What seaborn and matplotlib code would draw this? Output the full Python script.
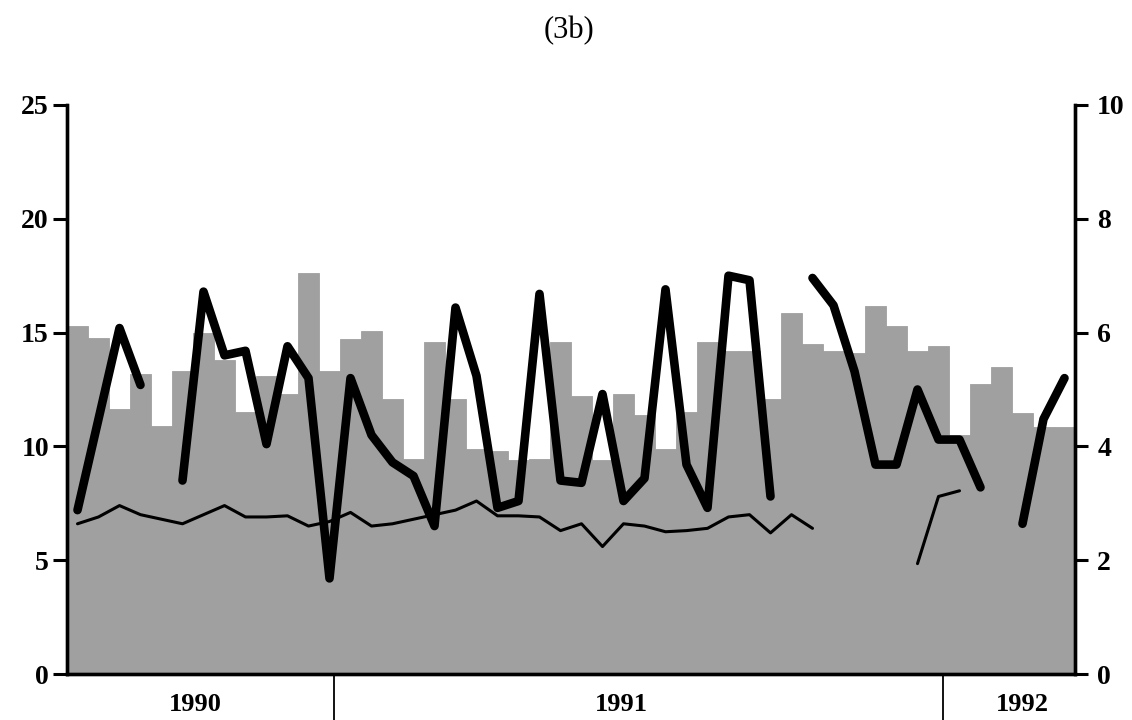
import matplotlib
matplotlib.use('Agg')
import matplotlib.pyplot as plt
import numpy as np
import pandas as pd
import seaborn as sns

# 48 periods, values (left axis units)
bars = [15.3, 14.75, 11.65, 13.2, 10.9, 13.3, 15.0, 13.8, 11.5, 13.1, 12.3, 17.6,
        13.3, 14.7, 15.05, 12.1, 9.45, 14.6, 12.1, 9.9, 9.8, 9.4, 9.45, 14.6,
        12.2, 9.4, 12.3, 11.4, 9.9, 11.5, 14.6, 14.2, 14.2, 12.1, 15.85, 14.5,
        14.2, 14.1, 16.15, 15.3, 14.2, 14.4, 10.5, 12.75, 13.5, 11.45, 10.85, 10.85]
thick = [7.2, 11.2, 15.2, 12.7, np.nan, 8.5, 16.8, 14.0, 14.2, 10.1, 14.4, 13.0,
         4.2, 13.0, 10.5, 9.3, 8.7, 6.5, 16.1, 13.1, 7.3, 7.6, 16.7, 8.5,
         8.4, 12.3, 7.6, 8.6, 16.9, 9.2, 7.3, 17.5, 17.3, 7.8, np.nan, 17.4,
         16.2, 13.3, 9.2, 9.2, 12.5, 10.3, 10.3, 8.2, np.nan, 6.6, 11.2, 13.0]
thin = [6.6, 6.9, 7.4, 7.0, 6.8, 6.6, 7.0, 7.4, 6.9, 6.9, 6.95, 6.5,
        6.7, 7.1, 6.5, 6.6, 6.8, 7.0, 7.2, 7.6, 6.95, 6.95, 6.9, 6.3,
        6.6, 5.6, 6.6, 6.5, 6.25, 6.3, 6.4, 6.9, 7.0, 6.2, 7.0, 6.4,
        np.nan, np.nan, np.nan, np.nan, 4.85, 7.8, 8.05, np.nan, np.nan, np.nan, np.nan, np.nan]
years = ['1990', '1991', '1992']
year_pos = [5.6, 25.9, 45.0]
year_breaks = [12.2, 41.2]

sns.set_style('ticks', {'axes.edgecolor': 'black', 'text.color': 'black',
                        'xtick.color': 'black', 'ytick.color': 'black'})
plt.rcParams['font.family'] = ['Liberation Serif', 'DejaVu Serif']

df = pd.DataFrame({'period': np.arange(len(bars)), 'bar': bars,
                   'thick': thick, 'thin': thin})


def segments(col):
    # split a series at its gaps so each piece is drawn on its own
    s = df[['period', col]].copy()
    s['seg'] = s[col].isna().cumsum()
    return s.dropna()


fig = plt.figure(figsize=(11.32, 7.2), dpi=100)
ax = fig.add_axes([67 / 1132, 1 - 674 / 720, (1075 - 67) / 1132, (674 - 105) / 720])

gray = '#a0a0a0'
sns.barplot(data=df, x='period', y='bar', color=gray, saturation=1, width=1.0,
            edgecolor=gray, linewidth=0.6, ax=ax)
sns.lineplot(data=segments('thin'), x='period', y='thin', units='seg', estimator=None,
             color='black', linewidth=2.2, ax=ax)
sns.lineplot(data=segments('thick'), x='period', y='thick', units='seg', estimator=None,
             color='black', linewidth=6.2, solid_joinstyle='round', ax=ax)

ax.set_xlim(-0.5, len(bars) - 0.5)
ax.set_ylim(0, 25)
ax.set_yticks(range(0, 26, 5))
ax.set_xlabel('')
ax.set_ylabel('')
ax.set_xticks(year_pos, years)
ax.set_xticks(year_breaks, minor=True)
ax.tick_params(axis='x', which='major', length=0, pad=14, labelsize=19)
ax.tick_params(axis='x', which='minor', length=34, width=1.3, direction='out')
ax.tick_params(axis='y', length=10, width=2.2, pad=3, labelsize=20)
for lab in ax.get_xticklabels() + ax.get_yticklabels():
    lab.set_fontweight('bold')

ax2 = ax.twinx()
ax2.set_ylim(0, 10)
ax2.set_yticks(range(0, 11, 2))
ax2.tick_params(axis='y', length=9, width=2.2, pad=7, labelsize=20)
for lab in ax2.get_yticklabels():
    lab.set_fontweight('bold')

for a in (ax, ax2):
    a.spines['top'].set_visible(False)
    for side in ('left', 'right', 'bottom'):
        a.spines[side].set_linewidth(2.4)

fig.text(0.503, 0.958, '(3b)', ha='center', va='center', fontsize=22)

fig.savefig('out.png', dpi=100)
